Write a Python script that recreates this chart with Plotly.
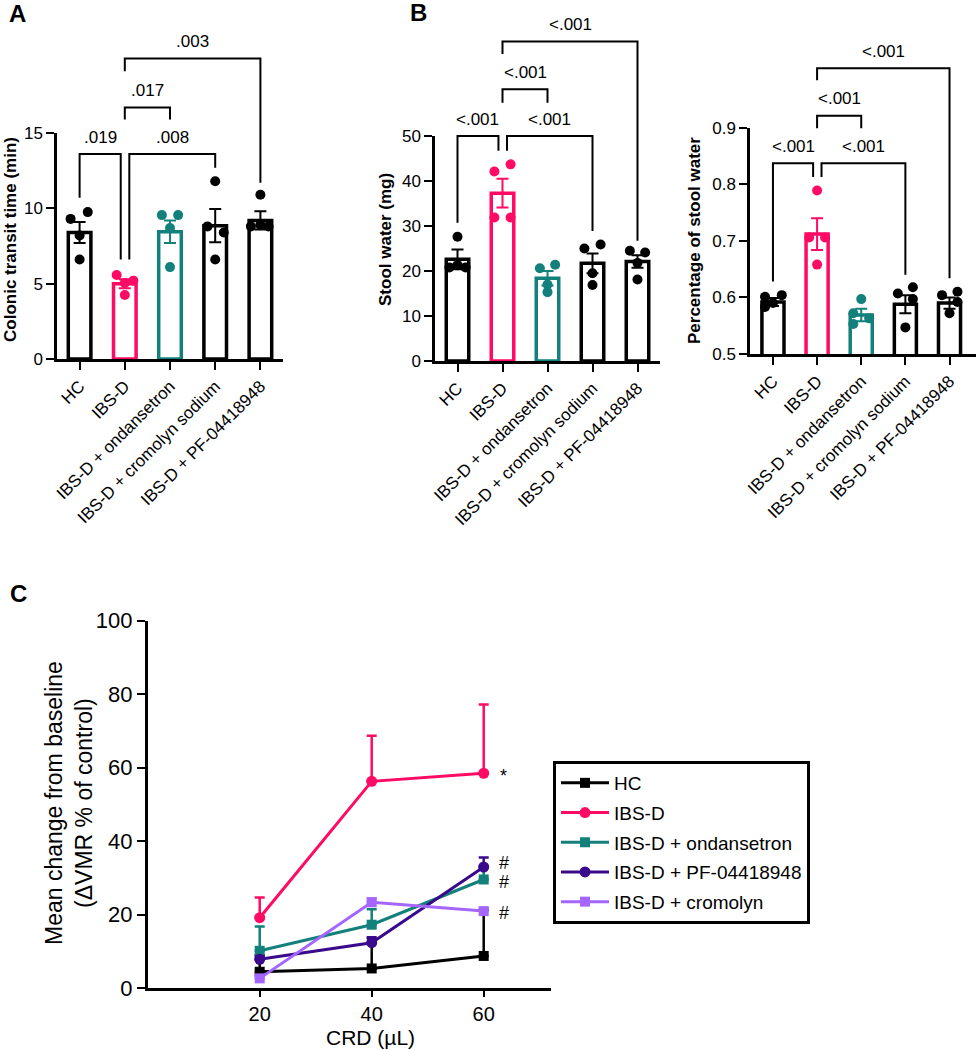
import plotly.graph_objects as go

W, H = 976, 1050
FONT = "Liberation Sans, Arial, sans-serif"

# ---------------- data ----------------
groups = ["HC", "IBS-D", "IBS-D + ondansetron", "IBS-D + cromolyn sodium", "IBS-D + PF-04418948"]

# Panel A: colonic transit time (min)
transit_mean = [8.4, 5.0, 8.45, 8.85, 9.2]
transit_sem = [0.7, 0.3, 0.75, 1.1, 0.6]
transit_points = [[9.3, 9.75, 8.2, 6.6], [5.57, 5.2, 5.05, 4.25], [9.55, 9.55, 8.7, 6.1],
                  [11.8, 8.8, 8.4, 6.6], [10.9, 8.8, 8.9, 8.8]]
transit_ticks = [0, 5, 10, 15]
# (group a, group b, bracket height, drop a, drop b, p label)
transit_tests = [(0, 1, 13.6, 10.7, 6.6, ".019"), (1, 3, 13.6, 6.6, 12.7, ".008"),
                 (1, 2, 16.7, 15.9, 15.9, ".017"), (1, 4, 19.95, 19.1, 11.7, ".003")]

# Panel B left: stool water (mg)
water_mean = [22.6, 37.3, 18.4, 21.7, 22.1]
water_sem = [2.2, 3.2, 1.6, 2.2, 1.4]
water_points = [[27.6, 21.3, 20.8, 20.8], [42.1, 43.7, 31.9, 31.9], [20.6, 21.4, 17.0, 15.3],
                [25.0, 25.9, 19.5, 16.9], [24.5, 24.1, 21.8, 18.1]]
water_ticks = [0, 10, 20, 30, 40, 50]
water_tests = [(0, 1, 50, 30.7, 46.7, "<.001"), (1, 3, 50, 46.7, 28.9, "<.001"),
               (1, 2, 60.4, 57.4, 57.4, "<.001"), (1, 4, 71, 68.2, 26.7, "<.001")]

# Panel B right: percentage of stool water
pct_mean = [0.592, 0.712, 0.569, 0.588, 0.590]
pct_sem = [0.007, 0.028, 0.011, 0.016, 0.010]
pct_points = [[0.601, 0.604, 0.583, 0.590], [0.789, 0.706, 0.706, 0.658], [0.597, 0.572, 0.563, 0.553],
              [0.607, 0.618, 0.597, 0.547], [0.604, 0.610, 0.592, 0.572]]
pct_ticks = [0.5, 0.6, 0.7, 0.8, 0.9]
pct_tests = [(0, 1, 0.837, 0.628, 0.813, "<.001"), (1, 3, 0.837, 0.813, 0.64, "<.001"),
             (1, 2, 0.921, 0.899, 0.899, "<.001"), (1, 4, 1.005, 0.984, 0.634, "<.001")]

# Panel C: VMR to colorectal distension
crd = [20, 40, 60]
series_names = ["HC", "IBS-D", "IBS-D + ondansetron", "IBS-D + PF-04418948", "IBS-D + cromolyn"]
vmr_hc = [4.5, 5.4, 8.8]
vmr_hc_err = [4.5, 8.2, 12.5]
vmr_ibsd = [19.2, 56.3, 58.5]
vmr_ibsd_err = [5.5, 12.4, 18.7]
vmr_ond = [10.2, 17.3, 29.6]
vmr_ond_err = [6.6, 4.2, 3.3]
vmr_pf = [7.9, 12.4, 33.0]
vmr_pf_err = [0.8, 1.5, 2.6]
vmr_crom = [2.7, 23.4, 21.0]
vmr_crom_err = [0.5, 1.0, 0.8]
sig_marks = [("*", 58.8), ("#", 34.2), ("#", 29.0), ("#", 20.5)]

# ---------------- style ----------------
PINK = "#FF0A64"
TEAL = "#13807B"
DPURPLE = "#3A0A8C"
LPURPLE = "#A566FF"
group_colors = ["#000000", PINK, TEAL, "#000000", "#000000"]
series_colors = ["#000000", PINK, TEAL, DPURPLE, LPURPLE]
series_symbols = ["square", "circle", "square", "circle", "square"]

jit_transit = [[-0.2, 0.18, 0, 0], [-0.18, 0.19, 0, 0], [-0.18, 0.18, 0, 0], [0, -0.17, 0.19, 0], [0, -0.21, 0, 0.18]]
jit_water = [[0, 0, -0.18, 0.18], [-0.18, 0.18, -0.18, 0.18], [-0.17, 0.17, 0, 0], [-0.18, 0.18, 0, 0], [-0.17, 0.17, 0, 0]]
jit_pct = [[-0.18, 0.2, -0.18, 0], [0, -0.18, 0.18, 0], [0, -0.18, 0.18, -0.18], [-0.17, 0.17, 0.17, 0], [-0.17, 0.18, 0.18, 0]]
nudges = [(0, -0.09), (0.1, 0), (0, 0), (0, 0)]


def fx(px):
    return min(1.0, max(0.0, px / W))


def fy(py):
    return min(1.0, max(0.0, 1 - py / H))


fig = go.Figure()
layout = {}
annotations = []


def axname(kind, i):
    return kind if i == 1 else f"{kind}{i}"


def add_bar_panel(n, means, sems, points, jitter, tests, box, vis_range, ticks, ticktext, xrange_):
    left, right, bottom, top = box
    xn = axname("x", n)
    ydn = axname("y", 2 * n - 1)
    yvn = axname("y", 2 * n)
    vmin, vmax = vis_range
    data_top = vmin + (vmax - vmin) * bottom / (bottom - top)

    fig.add_trace(go.Scatter(x=[None], y=[None], xaxis=xn, yaxis=yvn, showlegend=False, hoverinfo="skip"))
    for i in range(5):
        c = group_colors[i]
        fig.add_trace(go.Bar(x=[i], y=[means[i]], width=0.5, xaxis=xn, yaxis=ydn,
                             marker=dict(color="white", line=dict(color=c, width=3.5)),
                             error_y=dict(type="data", array=[sems[i]], color=c, thickness=2, width=6),
                             showlegend=False, hoverinfo="skip"))
    for i in range(5):
        fig.add_trace(go.Scatter(x=[i + j for j in jitter[i]], y=points[i], mode="markers",
                                 xaxis=xn, yaxis=ydn, cliponaxis=False,
                                 marker=dict(size=10, color=group_colors[i]),
                                 showlegend=False, hoverinfo="skip"))
    for (a, b, h, da, db, lab), (na, nb) in zip(tests, nudges):
        xa_, xb_ = a + na, b + nb
        fig.add_trace(go.Scatter(x=[xa_, xa_, xb_, xb_], y=[da, h, h, db], mode="lines",
                                 xaxis=xn, yaxis=ydn, line=dict(color="black", width=2),
                                 showlegend=False, hoverinfo="skip"))
        annotations.append(dict(x=(xa_ + xb_) / 2, y=h, xref=xn, yref=ydn, text=lab, showarrow=False,
                                yshift=17, font=dict(size=17, color="black", family=FONT)))

    layout[axname("xaxis", n)] = dict(domain=[fx(left), fx(right)], range=xrange_, anchor=yvn,
                                      tickvals=list(range(5)), ticktext=groups, tickangle=-45,
                                      ticks="outside", ticklen=8, tickwidth=2, tickcolor="black",
                                      showline=True, linewidth=2.5, linecolor="black",
                                      showgrid=False, zeroline=False, automargin=False,
                                      tickfont=dict(size=17, color="black", family=FONT))
    layout[axname("yaxis", 2 * n - 1)] = dict(domain=[fy(bottom), 1], range=[vmin, data_top],
                                              anchor=xn, visible=False, automargin=False)
    layout[axname("yaxis", 2 * n)] = dict(domain=[fy(bottom), fy(top)], range=[vmin, vmax], anchor=xn,
                                          tickvals=ticks, ticktext=ticktext,
                                          ticks="outside", ticklen=8, tickwidth=2, tickcolor="black",
                                          showline=True, linewidth=2.5, linecolor="black",
                                          showgrid=False, zeroline=False, automargin=False,
                                          tickfont=dict(size=17, color="black", family=FONT))


add_bar_panel(1, transit_mean, transit_sem, transit_points, jit_transit, transit_tests,
              (57, 283, 359, 133), (0, 15), transit_ticks, [str(t) for t in transit_ticks], [-0.5, 4.5])
add_bar_panel(2, water_mean, water_sem, water_points, jit_water, water_tests,
              (435, 660, 361, 136), (0, 50), water_ticks, [str(t) for t in water_ticks], [-0.5, 4.5])
add_bar_panel(3, pct_mean, pct_sem, pct_points, jit_pct, pct_tests,
              (750, 976, 354, 127.7), (0.5, 0.9), pct_ticks, [f"{t:.1f}" for t in pct_ticks], [-0.52, 4.6])

# Panel C
vmr_vals = [vmr_hc, vmr_ibsd, vmr_ond, vmr_pf, vmr_crom]
vmr_errs = [vmr_hc_err, vmr_ibsd_err, vmr_ond_err, vmr_pf_err, vmr_crom_err]
for name, vals, errs, c, sym in zip(series_names, vmr_vals, vmr_errs, series_colors, series_symbols):
    fig.add_trace(go.Scatter(x=crd, y=vals, name=name, legendgroup=name, mode="lines+markers",
                             xaxis="x4", yaxis="y7",
                             line=dict(color=c, width=3),
                             marker=dict(symbol=sym, size=11 if sym == "circle" else 10, color=c),
                             error_y=dict(type="data", symmetric=False, array=errs, arrayminus=[0] * len(errs),
                                          color=c, thickness=2.5, width=5),
                             cliponaxis=False, hoverinfo="skip"))

layout["xaxis4"] = dict(domain=[fx(147.7), fx(147.7 + 72 * 5.6)], range=[0, 72], anchor="y7",
                        tickvals=crd, ticks="outside", ticklen=6, tickwidth=2, tickcolor="black",
                        showline=True, linewidth=2.5, linecolor="black", showgrid=False, zeroline=False,
                        automargin=False, tickfont=dict(size=20, color="black", family=FONT))
layout["yaxis7"] = dict(domain=[fy(988.3), fy(620.7)], range=[0, 100], anchor="x4",
                        tickvals=[0, 20, 40, 60, 80, 100], ticks="outside", ticklen=8, tickwidth=2,
                        tickcolor="black", showline=True, linewidth=2.5, linecolor="black",
                        showgrid=False, zeroline=False, automargin=False,
                        tickfont=dict(size=22, color="black", family=FONT))

for txt, yv in sig_marks:
    annotations.append(dict(x=crd[-1], y=yv, xref="x4", yref="y7", text=txt, showarrow=False,
                            xshift=20, yshift=-4 if txt == "*" else 0,
                            font=dict(size=18, color="black", family=FONT)))


# Titles & panel letters
def ann(x, y, text, size, bold=False, angle=0, yanchor="middle"):
    annotations.append(dict(x=fx(x), y=fy(y), xref="paper", yref="paper",
                            text=f"<b>{text}</b>" if bold else text,
                            showarrow=False, textangle=angle, xanchor="center", yanchor=yanchor,
                            borderpad=0, font=dict(size=size, color="black", family=FONT)))


ann(11, 240, "Colonic transit time (min)", 17, bold=True, angle=-90)
ann(386, 240, "Stool water (mg)", 17, bold=True, angle=-90)
ann(695, 241, "Percentage of stool water", 17, bold=True, angle=-90)
ann(69, 803, "Mean change from baseline<br>(ΔVMR % of control)", 23, angle=-90)
ann(370, 1050, "CRD (µL)", 21, yanchor="bottom")
ann(17, 13, "A", 24, bold=True)
ann(418, 12, "B", 24, bold=True)
ann(18, 593, "C", 24, bold=True)

fig.update_layout(
    template="none",
    width=W, height=H, margin=dict(l=0, r=0, t=0, b=0, pad=0, autoexpand=False),
    paper_bgcolor="white", plot_bgcolor="rgba(0,0,0,0)",
    font=dict(family=FONT, color="black"),
    barmode="overlay",
    showlegend=True,
    legend=dict(x=fx(553), y=fy(761), xanchor="left", yanchor="top", bordercolor="black", borderwidth=3,
                bgcolor="white", font=dict(size=19, color="black", family=FONT),
                traceorder="grouped", tracegroupgap=2, itemwidth=48),
    annotations=annotations,
    **layout,
)
# place the figure at the very top-left of the page (no default body margin), no mode bar
fig.write_html("out.html", config={"displayModeBar": False},
               post_script="document.body.style.margin='0px';")
